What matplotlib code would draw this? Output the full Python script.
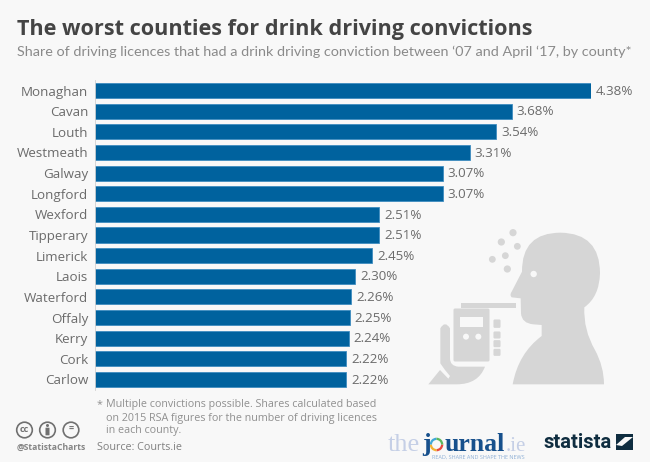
import matplotlib
matplotlib.use('Agg')
import matplotlib.pyplot as plt
import matplotlib.patches as patches
from matplotlib.path import Path

counties = ['Monaghan', 'Cavan', 'Louth', 'Westmeath', 'Galway', 'Longford', 'Wexford',
            'Tipperary', 'Limerick', 'Laois', 'Waterford', 'Offaly', 'Kerry', 'Cork', 'Carlow']
shares = [4.38, 3.68, 3.54, 3.31, 3.07, 3.07, 2.51, 2.51, 2.45, 2.30, 2.26, 2.25, 2.24, 2.22, 2.22]

BG, BLUE, GREY, TITLE, ICON = '#f8f8f8', '#00629e', '#6b6b6b', '#444444', '#d6d6d6'
W, H = 650, 462
plt.rcParams['font.family'] = ['Open Sans', 'DejaVu Sans']

fig = plt.figure(figsize=(6.5, 4.62), dpi=100, facecolor=BG)

# bars: axes box set in pixels so the rows land where the reference has them
x0, x1 = 95, 591
top, bottom = 80.2, 389.8
ax = fig.add_axes([x0 / W, 1 - bottom / H, (x1 - x0) / W, (bottom - top) / H])
ax.set_facecolor('none')
ax.barh(range(len(shares)), shares, height=0.73, color=BLUE, edgecolor='#3f8cc0', linewidth=0.6)
ax.set_xlim(0, 4.38)
ax.set_ylim(len(shares) - 0.5, -0.5)
ax.set_yticks(range(len(counties)), counties)
ax.tick_params(axis='y', length=0, pad=5, labelsize=9.6, labelcolor=GREY)
ax.set_xticks([])
for s in ['top', 'right', 'bottom']:
    ax.spines[s].set_visible(False)
ax.spines['left'].set_color('#d0d0d0')
ax.spines['left'].set_linewidth(0.6)
for i, v in enumerate(shares):
    ax.annotate(f'{v:.2f}%', (v, i), xytext=(3.6, -0.5), textcoords='offset points',
                va='center', fontsize=9.6, color=GREY, annotation_clip=False)

# overlay in pixel coordinates for text, icon and logos
ov = fig.add_axes([0, 0, 1, 1], facecolor='none')
ov.set_xlim(0, W)
ov.set_ylim(H, 0)
ov.axis('off')

ov.text(17, 29, 'The worst counties for drink driving convictions', fontsize=15.6,
        fontweight='bold', color=TITLE, va='center')
ov.text(17, 52, 'Share of driving licences that had a drink driving conviction between ‘07 and April ‘17, by county*',
        fontsize=10.33, color='#8a8a8a', va='center', family='Lato')

for i, line in enumerate(['Multiple convictions possible. Shares calculated based',
                          'on 2015 RSA figures for the number of driving licences',
                          'in each county.']):
    ov.text(105.5, 405 + i * 13, line, fontsize=7.75, color='#909090', va='center')
ov.text(97, 405, '*', fontsize=7.75, color='#909090', va='center')
ov.text(97, 447.5, 'Source: Courts.ie', fontsize=7.75, color='#808080', va='center')
ov.text(17, 447.5, '@StatistaCharts', fontsize=6.2, color='#858585', va='center', fontweight='bold')

# cc icons
for cx, s in [(24.5, 'cc'), (47.5, ''), (71, '=')]:
    ov.add_patch(patches.Circle((cx, 430), 7.8, fc='none', ec='#707070', lw=1.2))
    if s:
        ov.text(cx, 429.5, s, ha='center', va='center', fontsize=6.5, color='#707070', fontweight='bold')
ov.add_patch(patches.Circle((47.5, 425.5), 1.5, fc='#707070', ec='none'))
ov.add_patch(patches.FancyBboxPatch((45.8, 428), 3.4, 7, boxstyle='round,pad=0.3', fc='#707070', ec='none'))


def z(x, y):
    return 400 + x / 3, 190 + y / 3


def curve(cmds):
    verts, codes = [], []
    for kind, *pts in cmds:
        verts += [z(*p) for p in pts]
        codes += {'M': [Path.MOVETO], 'L': [Path.LINETO], 'Q': [Path.CURVE3] * 2}[kind]
    return Path(verts, codes)


# head and body
person = curve([('M', (338, 583)), ('Q', (355, 490), (425, 438)), ('L', (425, 405)), ('L', (400, 403)),
                ('Q', (365, 400), (363, 370)), ('L', (362, 325)), ('L', (335, 322)), ('Q', (328, 315), (335, 305)),
                ('L', (366, 245)), ('Q', (365, 128), (482, 128)), ('Q', (600, 130), (600, 250)),
                ('Q', (598, 320), (553, 352)), ('Q', (550, 420), (585, 480)), ('Q', (612, 530), (612, 583)),
                ('L', (338, 583))])
ov.add_patch(patches.PathPatch(person, fc=ICON, ec='none'))
ov.add_patch(patches.Circle(z(401, 252), 3.2, fc=BG, ec='none'))

# droplets
for dx, dy, r in [(339, 128, 3.6), (304, 156, 3.6), (352, 169, 3.4), (316, 197, 3.4), (277, 208, 3.4), (322, 237, 3.6)]:
    ov.add_patch(patches.Circle(z(dx, dy), r, fc=ICON, ec='none'))

# breathalyser and hand
hand = curve([('M', (85, 583)), ('L', (120, 540)), ('L', (145, 566)), ('L', (150, 558)), ('L', (135, 540)),
              ('L', (121, 520)), ('L', (121, 415)), ('Q', (135, 390), (150, 415)), ('L', (150, 505)),
              ('Q', (150, 528), (175, 530)), ('L', (255, 530)), ('Q', (235, 583), (170, 583)), ('L', (85, 583))])
ov.add_patch(patches.PathPatch(hand, fc=ICON, ec='none'))
ov.add_patch(patches.FancyBboxPatch((455, 310), 33, 50, boxstyle='round,pad=1.5', fc=ICON, ec='none'))
device = curve([('M', (183, 338)), ('L', (349, 338)), ('L', (349, 355)), ('L', (183, 355)), ('L', (183, 338))])
ov.add_patch(patches.PathPatch(device, fc=ICON, ec='none'))
ov.add_patch(patches.Rectangle(z(181, 381), 68 / 3, 29 / 3, fc=BG, ec='none'))
for bx in [198, 235]:
    ov.add_patch(patches.Circle(z(bx, 440), 3, fc=BG, ec='none'))
for fy, fh in [(392, 18), (428, 14), (454, 14), (480, 14)]:
    ov.add_patch(patches.FancyBboxPatch(z(284, fy), 14 / 3, fh / 3, boxstyle='round,pad=1.2', fc=ICON, ec='none'))

# logos
serif = dict(family='Liberation Serif', va='baseline')
ov.text(388, 451, 'the', fontsize=19, color='#c5cfe6', **serif)
ov.text(422, 451, 'j', fontsize=18.5, fontweight='bold', color='#17508c', **serif)
for a, b, c in [(0, 90, '#e8483f'), (90, 180, '#f2b233'), (180, 270, '#3fa9d8'), (270, 360, '#5cb85c')]:
    ov.add_patch(patches.Wedge((436.5, 444.5), 6.8, a, b, width=2.3, fc=c, ec='none'))
ov.text(445, 451, 'urnal', fontsize=18.5, fontweight='bold', color='#17508c', **serif)
ov.text(506, 451, '.ie', fontsize=15, color='#c5cfe6', **serif)
ov.text(432, 457, 'READ, SHARE AND SHAPE THE NEWS', fontsize=4.0, color='#8fb0d6', va='center')
ov.text(544, 442, 'statista', fontsize=14.5, fontweight='bold', color='#0f2d40', va='center',
        family='Roboto', fontstretch='condensed')
ov.add_patch(patches.Rectangle((616, 434), 17, 16, fc='#0f2d40', ec='none'))
ov.add_patch(patches.Polygon([(616, 445), (625, 437), (633, 437), (622, 446)], fc=BG, ec='none'))

fig.savefig('out.png', dpi=100, facecolor=BG)
